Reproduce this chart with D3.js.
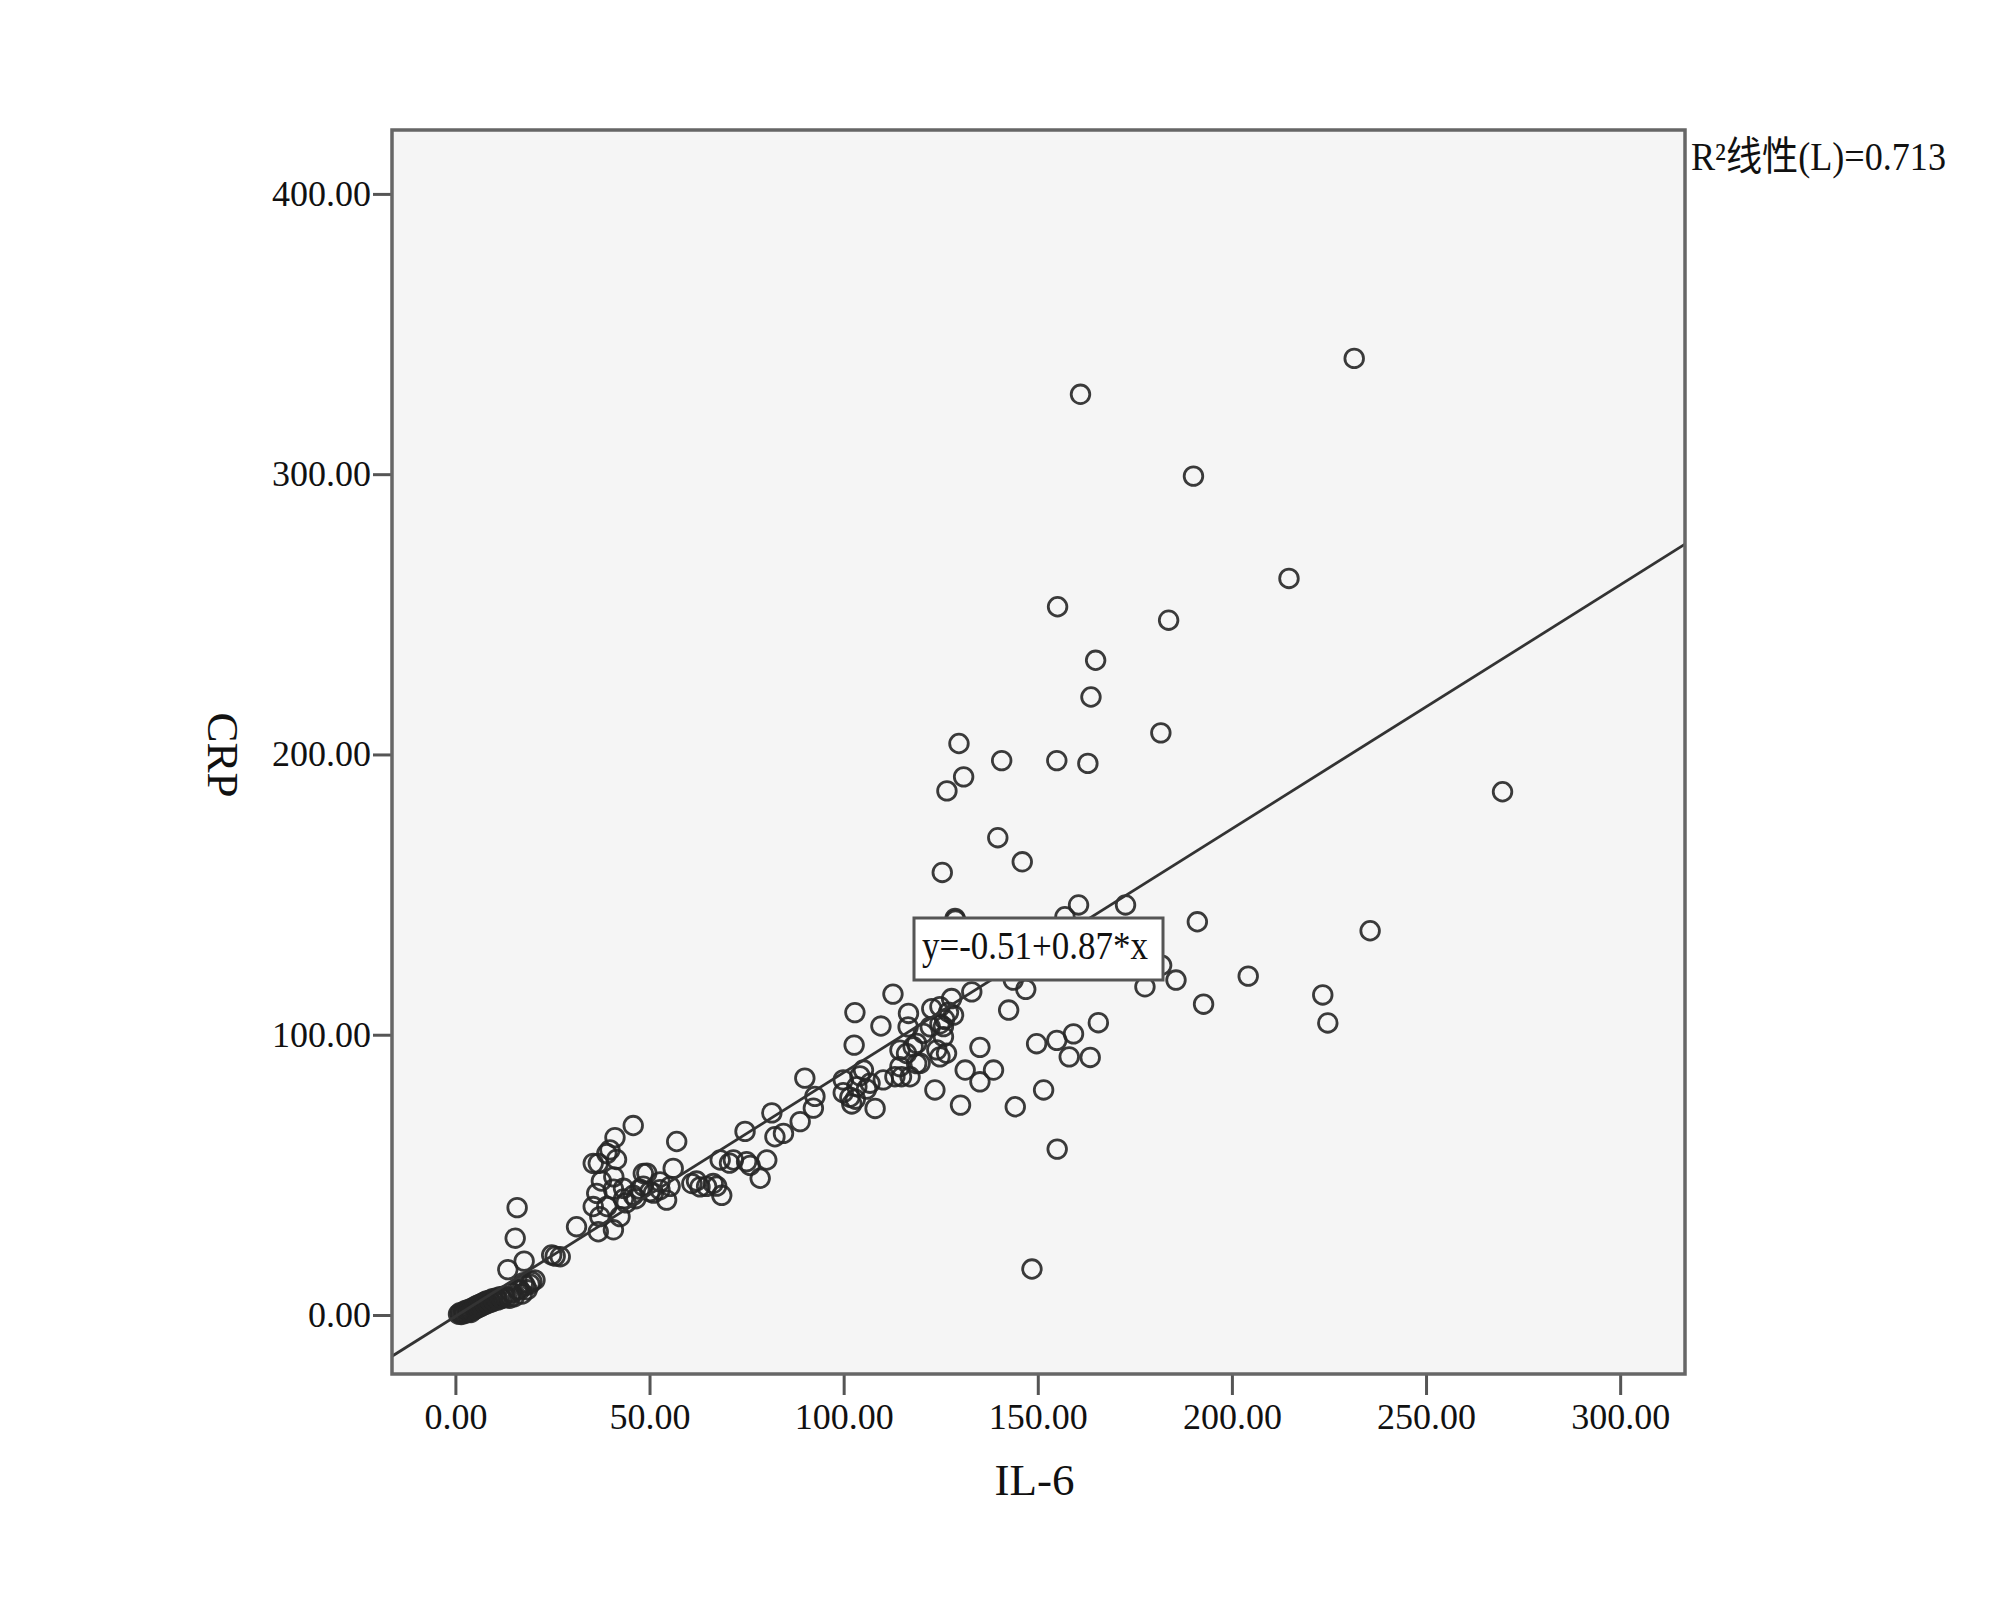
<!DOCTYPE html>
<html>
<head>
<meta charset="utf-8">
<script src="https://cdn.jsdelivr.net/npm/d3@7"></script>
<style>
  html, body { margin: 0; padding: 0; background: #ffffff; }
  svg { display: block; }
  text { font-family: "Liberation Serif", "Times New Roman", "Noto Sans CJK SC", serif; fill: #111; }
</style>
</head>
<body>
<svg id="chart" width="2000" height="1605"></svg>
<script>
// ---- data ----
const il6 = [
  0.8,1.2,1.5,2.0,2.2,2.5,3.0,3.1,3.5,3.8,4.0,4.2,4.5,4.8,5.0,5.3,5.6,5.9,6.2,6.5,
  6.8,7.0,7.4,7.7,8.0,8.4,8.8,9.2,9.6,10.0,10.5,11.0,11.5,12.0,12.6,13.2,14.0,14.5,15.2,16.0,
  16.6,17.2,18.0,18.5,19.2,19.7,20.5,17.5,13.5,17.7,15.4,15.9,24.8,25.7,27.0,
  31.2,35.5,36.8,37.2,40.7,42.4,36.4,39.0,40.7,43.3,45.8,47.5,49.3,51.0,52.7,54.4,56.1,57.0,
  60.9,63.0,66.4,68.6,68.2,71.6,74.6,75.0,80.2,78.5,81.5,82.3,84.5,88.8,90.0,92.6,92.2,
  36.8,41.1,45.8,39.8,41.5,37.6,35.5,39.0,43.3,50.1,52.7,55.3,64.7,70.6,48.4,48.4,40.8,
  62.1,67.3,75.9,44.0,46.5,
  102.9,109.6,102.7,112.7,116.7,124.8,128.3,125.7,116.2,118.8,114.5,124.8,135.1,131.3,135.1,
  138.6,123.5,130.1,114.9,118.8,99.9,103.4,106.8,101.6,108.1,105.1,110.2,102.1,104.2,105.9,
  103.0,99.9,117.9,114.5,119.7,117.1,113.2,122.7,127.8,124.8,125.7,124.0,126.5,122.3,128.7,
  133.0,142.5,146.9,143.7,116.6,120.5,126.0,127.0,
  231.5,161.0,190.1,214.7,155.1,183.7,164.9,163.7,181.7,129.7,140.7,154.9,162.9,130.9,126.6,
  269.7,139.7,146.0,125.4,160.5,172.6,191.1,235.6,128.8,157.0,204.2,185.6,181.9,177.6,192.7,
  223.4,224.7,165.6,159.2,154.9,149.7,158.1,163.5,151.5,144.2,155.0,148.5
];
const crp = [
  0.3,0.8,0.2,1.0,0.5,1.5,0.8,1.8,1.2,2.2,0.9,1.6,2.5,1.9,3.0,2.2,3.4,2.7,3.8,3.0,
  4.1,3.4,4.6,3.8,5.0,4.2,5.3,4.6,5.8,5.0,6.1,5.4,6.5,5.9,6.8,6.2,6.0,8.0,6.5,9.0,
  8.9,7.5,10.5,9.0,11.0,11.9,12.5,11.5,16.2,19.2,27.4,38.3,21.4,21.0,20.8,
  31.5,38.7,29.7,35.1,30.4,35.1,43.4,38.7,44.9,41.4,42.7,44.9,50.6,43.5,44.7,41.0,52.3,61.9,
  46.9,45.7,46.9,42.7,55.3,55.3,65.5,54.7,55.3,48.8,72.1,63.6,64.8,69.0,84.5,78.0,73.8,
  54.1,63.3,67.6,58.9,55.5,47.8,54.1,57.6,45.2,44.0,47.5,45.9,45.9,54.2,50.5,46.0,49.3,
  47.8,46.0,53.4,40.0,41.5,
  107.9,103.1,96.3,114.5,107.6,110.0,107.0,102.9,93.3,89.7,94.5,92.1,95.5,87.4,83.2,
  87.4,80.3,74.9,85.0,96.9,83.9,81.5,82.7,77.7,73.7,87.4,83.9,75.3,85.3,80.6,
  77.0,79.3,95.7,88.6,89.8,85.0,85.0,109.3,112.9,103.9,99.3,94.6,93.4,102.8,141.5,
  115.3,108.8,116.2,119.5,102.8,100.5,105.5,108.0,
  341.3,328.5,299.3,262.8,252.7,247.9,233.6,220.5,207.7,203.9,197.8,197.8,196.8,192.0,187.0,
  186.7,170.3,161.7,157.9,146.3,146.3,140.3,137.1,140.9,142.1,120.9,119.5,124.8,117.1,110.9,
  114.2,104.2,104.3,100.3,98.0,96.8,92.1,91.9,80.3,74.3,59.2,16.4
];
const xTicks = [0, 50, 100, 150, 200, 250, 300];
const yTicks = [0, 100, 200, 300, 400];
const xTitle = "IL-6";
const yTitle = "CRP";
const fitIntercept = -0.51;
const fitSlope = 0.87;
const r2Label = "R²线性(L)=0.713";

// ---- layout ----
const svg = d3.select("#chart");
const plot = { left: 392, top: 130, right: 1685, bottom: 1374 };

const x = d3.scaleLinear().domain([-16.33, 316.7]).range([plot.left, plot.right]);
const y = d3.scaleLinear().domain([-21.05, 422.8]).range([plot.bottom, plot.top]);

// background panel
svg.append("rect")
  .attr("x", plot.left).attr("y", plot.top)
  .attr("width", plot.right - plot.left).attr("height", plot.bottom - plot.top)
  .attr("fill", "#f5f5f5");

svg.append("defs").append("clipPath").attr("id", "clip")
  .append("rect")
  .attr("x", plot.left).attr("y", plot.top)
  .attr("width", plot.right - plot.left).attr("height", plot.bottom - plot.top);

const fmt = d3.format(".2f");

// axes
const xAxis = svg.append("g")
  .attr("transform", `translate(0,${plot.bottom})`)
  .call(d3.axisBottom(x).tickValues(xTicks).tickFormat(fmt).tickSize(21).tickPadding(8));
const yAxis = svg.append("g")
  .attr("transform", `translate(${plot.left},0)`)
  .call(d3.axisLeft(y).tickValues(yTicks).tickFormat(fmt).tickSize(19).tickPadding(2));

[xAxis, yAxis].forEach(g => {
  g.select(".domain").remove();
  g.selectAll(".tick line").attr("stroke", "#555").attr("stroke-width", 3);
  g.selectAll(".tick text")
    .attr("font-family", "Liberation Serif, serif")
    .attr("font-size", 36)
    .attr("fill", "#111");
});

// points
const pts = il6.map((v, i) => ({ x: v, y: crp[i] }));
svg.append("g").attr("clip-path", "url(#clip)")
  .selectAll("circle").data(pts).enter().append("circle")
  .attr("cx", d => x(d.x)).attr("cy", d => y(d.y))
  .attr("r", 9.3)
  .attr("fill", "none")
  .attr("stroke", "#262626")
  .attr("stroke-width", 2.8)
  .attr("stroke-opacity", 0.9);

// regression line
const xd = x.domain();
svg.append("line")
  .attr("clip-path", "url(#clip)")
  .attr("x1", x(xd[0])).attr("y1", y(fitIntercept + fitSlope * xd[0]))
  .attr("x2", x(xd[1])).attr("y2", y(fitIntercept + fitSlope * xd[1]))
  .attr("stroke", "#333").attr("stroke-width", 2.8);

// frame
svg.append("rect")
  .attr("x", plot.left).attr("y", plot.top)
  .attr("width", plot.right - plot.left).attr("height", plot.bottom - plot.top)
  .attr("fill", "none").attr("stroke", "#666").attr("stroke-width", 3.5);

// equation box
const eqBox = { x: 914, y: 918, w: 249, h: 62 };
svg.append("rect")
  .attr("x", eqBox.x).attr("y", eqBox.y).attr("width", eqBox.w).attr("height", eqBox.h)
  .attr("fill", "#ffffff").attr("stroke", "#555").attr("stroke-width", 3);
svg.append("text")
  .attr("x", 922).attr("y", 959)
  .attr("font-size", 40)
  .attr("textLength", 226).attr("lengthAdjust", "spacingAndGlyphs")
  .text(`y=${fitIntercept.toFixed(2)}+${fitSlope.toFixed(2)}*x`);

// R² label
svg.append("text")
  .attr("x", 1691).attr("y", 170)
  .attr("font-size", 40)
  .attr("textLength", 255).attr("lengthAdjust", "spacingAndGlyphs")
  .text(r2Label);

// axis titles
svg.append("text")
  .attr("x", (plot.left + plot.right) / 2 - 4).attr("y", 1495)
  .attr("text-anchor", "middle")
  .attr("font-size", 45)
  .text(xTitle);

svg.append("text")
  .attr("transform", `translate(208,755) rotate(90)`)
  .attr("text-anchor", "middle")
  .attr("font-size", 45)
  .text(yTitle);
</script>
</body>
</html>
